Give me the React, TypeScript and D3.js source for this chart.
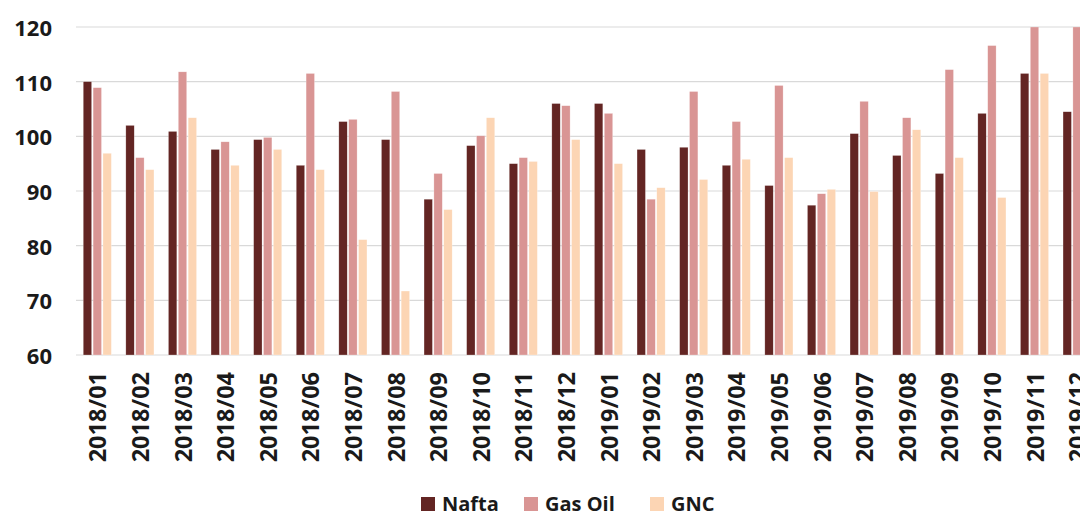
import * as d3 from "d3";

const months = [
  "2018/01", "2018/02", "2018/03", "2018/04", "2018/05", "2018/06",
  "2018/07", "2018/08", "2018/09", "2018/10", "2018/11", "2018/12",
  "2019/01", "2019/02", "2019/03", "2019/04", "2019/05", "2019/06",
  "2019/07", "2019/08", "2019/09", "2019/10", "2019/11", "2019/12",
];

const nafta = [
  110.0, 102.0, 100.9, 97.6, 99.4, 94.7, 102.7, 99.4, 88.5, 98.3, 95.0, 106.0,
  106.0, 97.6, 98.0, 94.7, 91.0, 87.4, 100.5, 96.5, 93.2, 104.2, 111.5, 104.5,
];
const gasOil = [
  108.9, 96.1, 111.8, 99.0, 99.8, 111.5, 103.1, 108.2, 93.2, 100.1, 96.1, 105.6,
  104.2, 88.5, 108.2, 102.7, 109.3, 89.5, 106.4, 103.4, 112.2, 116.6, 120.3, 120.3,
];
const gnc = [
  96.9, 93.9, 103.4, 94.7, 97.6, 93.9, 81.1, 71.7, 86.6, 103.4, 95.4, 99.4,
  95.0, 90.6, 92.1, 95.8, 96.1, 90.3, 89.9, 101.2, 96.1, 88.8, 111.5, 104.9,
];

const seriesNames = ["Nafta", "Gas Oil", "GNC"];
const seriesColors = ["#632523", "#d99594", "#fcd5b4"];
const yTicks = [60, 70, 80, 90, 100, 110, 120];

const W = 1088;
const H = 516;
const FONT = "'Open Sans', 'DejaVu Sans', sans-serif";

export default function App() {
  const plotLeft = 76;
  const step = 42.6;
  const plotRight = plotLeft + step * months.length;
  const top = 27;
  const bottom = 355;

  const x0 = d3.scaleBand<string>().domain(months).range([plotLeft, plotRight])
    .paddingInner(0.34).paddingOuter(0.17);
  const x1 = d3.scaleBand<string>().domain(seriesNames).range([0, x0.bandwidth()])
    .paddingInner(0.15);
  const y = d3.scaleLinear().domain([60, 120]).range([bottom, top]);

  const values = [nafta, gasOil, gnc];

  // legend layout
  const legendItems = [
    { name: "Nafta", x: 421 },
    { name: "Gas Oil", x: 524 },
    { name: "GNC", x: 650 },
  ];

  // svg sits inside the 8px body margin, so shift the drawing back by 8px
  return (
    <svg width={W - 8} height={H - 8} style={{ display: "block", overflow: "visible" }}>
      <g transform="translate(-8,-8)">
        <defs>
          <clipPath id="plot">
            <rect x={plotLeft} y={top} width={W - plotLeft} height={bottom - top} />
          </clipPath>
        </defs>
        {yTicks.map((t) => (
          <g key={t}>
            <line x1={plotLeft} x2={W} y1={y(t)} y2={y(t)} stroke="#d9d9d9" strokeWidth={1.2} />
            <text x={52} y={y(t)} textAnchor="end" dominantBaseline="central"
              fontFamily={FONT} fontWeight={700} fontSize={22} fill="#1a1a1a">{t}</text>
          </g>
        ))}
        <g clipPath="url(#plot)">
          {months.map((m, i) => (
            <g key={m} transform={`translate(${x0(m)},0)`}>
              {seriesNames.map((s, k) => {
                const v = values[k][i];
                const yy = y(Math.min(v, 120));
                return (
                  <rect key={s} x={x1(s)} y={yy} width={x1.bandwidth()} height={bottom - yy}
                    fill={seriesColors[k]} stroke="#fff" strokeOpacity={0.5} strokeWidth={0.5} />
                );
              })}
            </g>
          ))}
        </g>
        {months.map((m) => {
          const cx = (x0(m) ?? 0) + x0.bandwidth() / 2;
          return (
            <text key={m} transform={`translate(${cx},372) rotate(-90)`} textAnchor="end"
              dominantBaseline="central" fontFamily={FONT} fontWeight={700} fontSize={23.5} fill="#1a1a1a">
              {m}
            </text>
          );
        })}
        {legendItems.map((it, k) => (
          <g key={it.name}>
            <rect x={it.x} y={497} width={14} height={14} fill={seriesColors[k]} />
            <text x={it.x + 21} y={503.5} dominantBaseline="central" fontFamily={FONT}
              fontWeight={700} fontSize={20} fill="#1a1a1a">{it.name}</text>
          </g>
        ))}
      </g>
    </svg>
  );
}
